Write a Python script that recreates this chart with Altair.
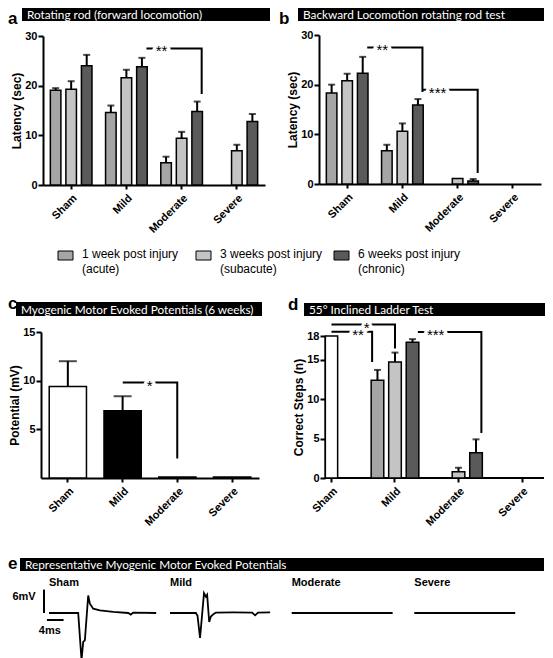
import altair as alt
import pandas as pd

FONT = "Liberation Sans"
TITLE_FONT = "Lato"

CATS = ["Sham", "Mild", "Moderate", "Severe"]
SERIES = ["1 week", "3 weeks", "6 weeks"]
SERIES_LABELS = ["1 week post injury\n(acute)", "3 weeks post injury\n(subacute)",
                 "6 weeks post injury\n(chronic)"]
SERIES_FILL = ["#a5a5a5", "#c4c4c4", "#5a5a5a"]

# ---- panel a: rotating rod, forward (sec) ----
A_1WK = [19.1, 14.6, 4.5, None]
A_3WK = [19.3, 21.6, 9.4, 6.9]
A_6WK = [24.0, 23.8, 14.8, 12.8]
A_1WK_ERR = [0.4, 1.4, 1.2, None]
A_3WK_ERR = [1.6, 1.6, 1.3, 1.2]
A_6WK_ERR = [2.2, 1.8, 2.0, 1.5]

# ---- panel b: rotating rod, backward (sec) ----
B_1WK = [18.3, 6.7, None, None]
B_3WK = [20.8, 10.6, 1.1, None]
B_6WK = [22.3, 15.9, 0.6, None]
B_1WK_ERR = [1.7, 1.2, None, None]
B_3WK_ERR = [1.4, 1.6, None, None]
B_6WK_ERR = [3.3, 1.2, 0.4, None]

# ---- panel c: MEP amplitude at 6 weeks (mV) ----
C_MEAN = [9.4, 6.9, 0.1, 0.1]
C_ERR = [2.6, 1.5, None, None]
C_FILL = ["white", "black", "white", "white"]

# ---- panel d: inclined ladder, correct steps ----
D_SHAM = [18.0]
D_1WK = [None, 12.4, None, None]
D_3WK = [None, 14.7, 0.8, None]
D_6WK = [None, 17.2, 3.2, None]
D_1WK_ERR = [None, 1.3, None, None]
D_3WK_ERR = [None, 1.2, 0.5, None]
D_6WK_ERR = [None, 0.4, 1.7, None]

# significance brackets: (category, series, value) path points
A_BRACKETS = [[("Mild", "6 weeks", 27.5), ("Moderate", "6 weeks", 27.5), ("Moderate", "6 weeks", 18.3)]]
B_BRACKETS = [[("Sham", "6 weeks", 27.5), ("Mild", "6 weeks", 27.5), ("Mild", "6 weeks", 18.5)],
              [("Mild", "6 weeks", 19.0), ("Moderate", "6 weeks", 19.0), ("Moderate", "6 weeks", 2.2)]]
C_BRACKETS = [[("Mild", None, 9.8), ("Moderate", None, 9.8), ("Moderate", None, 2.0)]]
D_BRACKETS = [[("Sham", "3 weeks", 18.55), ("Mild", "1 week", 18.55), ("Mild", "1 week", 14.7)],
              [("Sham", "3 weeks", 19.45), ("Mild", "3 weeks", 19.45), ("Mild", "3 weeks", 16.4)],
              [("Mild", "6 weeks", 18.5), ("Moderate", "6 weeks", 18.5), ("Moderate", "6 weeks", 5.7)]]

# ---- panel e: representative MEP traces (ms, mV) ----
SHAM_T = [0, 7.0, 7.8, 8.2, 8.6, 9.4, 9.8, 10.6, 12.2, 15.4, 19.0, 19.6, 20.2, 25.7]
SHAM_V = [0, 0, -12.1, -7.4, -7.0, 4.5, 2.4, 1.1, 0.7, 0.3, 0, -0.4, 0.1, 0]
MILD_T = [0, 6.2, 6.6, 7.2, 7.7, 8.15, 8.6, 8.9, 9.4, 9.8, 10.4, 11.0, 15.2, 19.7, 20.4, 21.1, 24.0]
MILD_V = [0, 0, -0.7, -6.4, -0.4, 5.1, 4.2, 4.7, -2.3, -0.9, -0.3, 0.1, 0.15, 0.1, -0.6, 0.1, 0.15]
MOD_T = [0, 12.0, 24.2]
MOD_V = [0, 0, 0]
SEV_T = [0, 12.0, 24.2]
SEV_V = [0, 0, 0]
TRACE_NAMES = ["Sham", "Mild", "Moderate", "Severe"]
SCALE_MV = 6
SCALE_MS = 4

W, H = 537, 650
ONE = pd.DataFrame({"k": [0]})


def long_df(means, errs):
    rows = []
    for s, ms, es in zip(SERIES, means, errs):
        for c, m, e in zip(CATS, ms, es):
            if m is None:
                continue
            rows.append({"cat": c, "series": s, "mean": m, "err": e or 0.0,
                         "hi": m + (e or 0.0)})
    return pd.DataFrame(rows)


def bracket_df(brs):
    rows = []
    for i, br in enumerate(brs):
        for j, (c, s, v) in enumerate(br):
            rows.append({"id": i, "seq": j, "cat": c, "series": s, "val": v})
    return pd.DataFrame(rows)


fill_scale = alt.Scale(domain=SERIES, range=SERIES_FILL)
layers = []


def deco_bar(x0, x1, y0, y1, text):
    r = alt.Chart(ONE).mark_rect(color="black").encode(
        x=alt.value(x0), x2=alt.value(x1), y=alt.value(y0), y2=alt.value(y1))
    t = alt.Chart(ONE).mark_text(text=text, color="white", font=TITLE_FONT, fontSize=11.8,
                                 align="left", baseline="middle").encode(
        x=alt.value(x0 + 5), y=alt.value((y0 + y1) / 2 + 0.5))
    return [r, t]


def letter(x, y, s):
    return alt.Chart(ONE).mark_text(text=s, font=FONT, fontSize=17, fontWeight="bold",
                                    color="black", align="left", baseline="alphabetic").encode(
        x=alt.value(x), y=alt.value(y))


def star(cat, val, txt, xs, ys, xo=None, series=None, shift=0, halo_w=6):
    df = pd.DataFrame({"cat": [cat], "val": [val], "series": [series]})
    out = []
    for halo in (True, False):
        kw = dict(text=txt, font=FONT, fontSize=15, align="center", baseline="alphabetic",
                  dy=8, dx=shift)
        if halo:
            kw.update(color="white", stroke="white", strokeWidth=halo_w)
        else:
            kw.update(color="black")
        enc = dict(x=alt.X("cat:N", scale=xs, axis=None), y=alt.Y("val:Q", scale=ys, axis=None))
        if xo is not None:
            enc["xOffset"] = alt.XOffset("series:N", scale=xo)
        out.append(alt.Chart(df).mark_text(**kw).encode(**enc))
    return out


def grouped_panel(df, brs, xs, xo, ys, xaxis, yaxis):
    err = df[df["err"] > 0]
    xnone = alt.X("cat:N", scale=xs, axis=None)
    out = [
        alt.Chart(err).mark_rule(color="black", strokeWidth=2).encode(
            x=xnone, xOffset=alt.XOffset("series:N", scale=xo),
            y=alt.Y("mean:Q", scale=ys, axis=None), y2="hi:Q"),
        alt.Chart(err).mark_tick(color="black", thickness=2, size=7, orient="horizontal").encode(
            x=xnone, xOffset=alt.XOffset("series:N", scale=xo),
            y=alt.Y("hi:Q", scale=ys, axis=None)),
        alt.Chart(df).mark_bar(stroke="black", strokeWidth=1.5).encode(
            x=alt.X("cat:N", scale=xs, axis=xaxis),
            xOffset=alt.XOffset("series:N", scale=xo),
            y=alt.Y("mean:Q", scale=ys, axis=yaxis),
            fill=alt.Fill("series:N", scale=fill_scale, legend=None)),
        alt.Chart(bracket_df(brs)).mark_line(color="black", strokeWidth=2).encode(
            x=xnone, xOffset=alt.XOffset("series:N", scale=xo),
            y=alt.Y("val:Q", scale=ys, axis=None), detail="id:N", order="seq:Q"),
    ]
    return out


def x_axis(off, domain=True):
    return alt.Axis(orient="bottom", offset=off, title=None, labelAngle=-45, labelAlign="right",
                    labelBaseline="top", tickSize=4, labelPadding=3, labelOverlap=False,
                    domain=domain)


def y_axis(off, vals, title):
    return alt.Axis(orient="left", offset=off, values=vals, title=title, tickSize=5,
                    labelPadding=1, titlePadding=1, labelOverlap=False)


# ---------------- panel a ----------------
layers += deco_bar(14, 262, 0, 13, "Rotating rod (forward locomotion)")
layers.append(letter(0, 16, "a"))
xs_a = alt.Scale(domain=CATS, range=[35, 257], paddingInner=0.15, paddingOuter=0.085)
xo_a = alt.Scale(domain=SERIES, paddingInner=0.32, paddingOuter=0.17)
ys_a = alt.Scale(domain=[0, 30], range=[177, 28], nice=False)
layers += grouped_panel(long_df([A_1WK, A_3WK, A_6WK], [A_1WK_ERR, A_3WK_ERR, A_6WK_ERR]),
                        A_BRACKETS, xs_a, xo_a, ys_a, x_axis(-(H - 177)),
                        y_axis(-35, [0, 10, 20, 30], "Latency (sec)"))
layers += star("Moderate", 27.5, "**", xs_a, ys_a, xo_a, "1 week")

# ---------------- panel b ----------------
layers += deco_bar(290, 536, 0, 13, "Backward Locomotion rotating rod test")
layers.append(letter(271, 16, "b"))
xs_b = alt.Scale(domain=CATS, range=[311, 533], paddingInner=0.15, paddingOuter=0.085)
xo_b = alt.Scale(domain=SERIES, paddingInner=0.32, paddingOuter=0.17)
ys_b = alt.Scale(domain=[0, 30], range=[176, 27], nice=False)
layers += grouped_panel(long_df([B_1WK, B_3WK, B_6WK], [B_1WK_ERR, B_3WK_ERR, B_6WK_ERR]),
                        B_BRACKETS, xs_b, xo_b, ys_b, x_axis(-(H - 176)),
                        y_axis(-311, [0, 10, 20, 30], "Latency (sec)"))
layers += star("Mild", 27.5, "**", xs_b, ys_b, xo_b, "1 week")
layers += star("Moderate", 19.0, "***", xs_b, ys_b, xo_b, "1 week")

# ---------------- legend ----------------
leg = pd.DataFrame({"series": SERIES, "label": SERIES_LABELS})
xs_leg = alt.Scale(domain=SERIES, range=[50, 464], paddingInner=0, paddingOuter=0)
layers.append(alt.Chart(leg).mark_bar(width=15, xOffset=-61.5, stroke="black", strokeWidth=1).encode(
    x=alt.X("series:N", scale=xs_leg, axis=None), y=alt.value(243), y2=alt.value(252),
    fill=alt.Fill("series:N", scale=fill_scale, legend=None)))
layers.append(alt.Chart(leg).mark_text(align="left", baseline="top", dx=-45, lineBreak="\n",
                                       font=FONT, fontSize=12, lineHeight=15, color="black").encode(
    x=alt.X("series:N", scale=xs_leg, axis=None), y=alt.value(241), text="label:N"))

# ---------------- panel c ----------------
layers += deco_bar(8, 254, 294, 308, "Myogenic Motor Evoked Potentials (6 weeks)")
layers.append(letter(0, 301, "c"))
xs_c = alt.Scale(domain=CATS, range=[33, 251], paddingInner=0.32, paddingOuter=0.15)
ys_c = alt.Scale(domain=[0, 15], range=[470, 324], nice=False)
c_df = pd.DataFrame({"cat": CATS, "mean": C_MEAN, "err": [e or 0.0 for e in C_ERR]})
c_df["hi"] = c_df["mean"] + c_df["err"]
c_err = c_df[c_df["err"] > 0]
layers.append(alt.Chart(c_err).mark_rule(color="black", strokeWidth=2).encode(
    x=alt.X("cat:N", scale=xs_c, axis=None), y=alt.Y("mean:Q", scale=ys_c, axis=None), y2="hi:Q"))
layers.append(alt.Chart(c_err).mark_tick(color="black", thickness=2, size=18, orient="horizontal").encode(
    x=alt.X("cat:N", scale=xs_c, axis=None), y=alt.Y("hi:Q", scale=ys_c, axis=None)))
layers.append(alt.Chart(c_df).mark_bar(stroke="black", strokeWidth=1.5).encode(
    x=alt.X("cat:N", scale=xs_c, axis=x_axis(-(H - 470))),
    y=alt.Y("mean:Q", scale=ys_c, axis=y_axis(-33, [5, 10, 15], "Potential (mV)")),
    fill=alt.Fill("cat:N", scale=alt.Scale(domain=CATS, range=C_FILL), legend=None)))
layers.append(alt.Chart(bracket_df(C_BRACKETS)).mark_line(color="black", strokeWidth=2).encode(
    x=alt.X("cat:N", scale=xs_c, axis=None), y=alt.Y("val:Q", scale=ys_c, axis=None),
    detail="id:N", order="seq:Q"))
layers += star("Mild", 9.8, "*", xs_c, ys_c, shift=27)

# ---------------- panel d ----------------
layers += deco_bar(296, 537, 295, 308, "55° Inclined Ladder Test")
layers.append(letter(280, 302, "d"))
xs_d = alt.Scale(domain=CATS, range=[296.5, 541], paddingInner=0.15, paddingOuter=0)
xo_d = alt.Scale(domain=SERIES, paddingInner=0.28, paddingOuter=0.18)
ys_d = alt.Scale(domain=[0, 18], range=[470, 328], nice=False)
layers.append(alt.Chart(ONE).mark_rule(color="black", strokeWidth=2).encode(
    x=alt.value(317), x2=alt.value(536), y=alt.value(470)))
layers.append(alt.Chart(pd.DataFrame({"cat": ["Sham"], "mean": D_SHAM})).mark_bar(
    width={"band": 0.228}, fill="white", stroke="black", strokeWidth=1.5).encode(
    x=alt.X("cat:N", scale=xs_d, axis=None), y=alt.Y("mean:Q", scale=ys_d, axis=None)))
layers += grouped_panel(long_df([D_1WK, D_3WK, D_6WK], [D_1WK_ERR, D_3WK_ERR, D_6WK_ERR]),
                        D_BRACKETS, xs_d, xo_d, ys_d, x_axis(-(H - 470), domain=False),
                        y_axis(-317, [0, 5, 10, 15, 18], "Correct Steps (n)"))
layers += star("Sham", 18.55, "**", xs_d, ys_d, shift=23, halo_w=6)
layers += star("Sham", 19.45, "*", xs_d, ys_d, shift=31.5, halo_w=5)
layers += star("Moderate", 18.5, "***", xs_d, ys_d, xo_d, "1 week")

# ---------------- panel e ----------------
layers += deco_bar(12, 536, 550, 563, "Representative Myogenic Motor Evoked Potentials")
layers.append(letter(0, 561, "e"))
ys_e = alt.Scale(domain=[-13, 8], range=[655.7, 573.8], nice=False, zero=False)
starts = [41, 162, 283.7, 406.3]
traces = [(SHAM_T, SHAM_V), (MILD_T, MILD_V), (MOD_T, MOD_V), (SEV_T, SEV_V)]
for name, x0, (tt, vv) in zip(TRACE_NAMES, starts, traces):
    xs_e = alt.Scale(domain=[0, 25.7], range=[x0, x0 + 107.2], nice=False, zero=False)
    df = pd.DataFrame({"t": tt, "v": vv, "i": range(len(tt))})
    layers.append(alt.Chart(df).mark_line(color="black", strokeWidth=1.8).encode(
        x=alt.X("t:Q", scale=xs_e, axis=None), y=alt.Y("v:Q", scale=ys_e, axis=None),
        order="i:Q"))
    layers.append(alt.Chart(pd.DataFrame({"t": [0.0], "v": [7.6], "name": [name]})).mark_text(
        font=FONT, fontSize=11, fontWeight="bold", align="left", baseline="middle",
        color="black").encode(
        x=alt.X("t:Q", scale=xs_e, axis=None), y=alt.Y("v:Q", scale=ys_e, axis=None),
        text="name:N"))
    if name == "Sham":
        layers.append(alt.Chart(pd.DataFrame({"t": [-1.2], "v0": [0], "v1": [SCALE_MV]})).mark_rule(
            color="black", strokeWidth=2).encode(
            x=alt.X("t:Q", scale=xs_e, axis=None), y=alt.Y("v0:Q", scale=ys_e, axis=None), y2="v1:Q"))
        layers.append(alt.Chart(pd.DataFrame({"t0": [-0.5], "t1": [-0.5 + SCALE_MS], "v": [-1.8]})).mark_rule(
            color="black", strokeWidth=2).encode(
            x=alt.X("t0:Q", scale=xs_e, axis=None), x2="t1:Q", y=alt.Y("v:Q", scale=ys_e, axis=None)))
        layers.append(alt.Chart(pd.DataFrame({"t": [-3.2], "v": [4.2], "lab": [f"{SCALE_MV}mV"]})).mark_text(
            font=FONT, fontSize=11, fontWeight="bold", align="right", baseline="middle",
            color="black").encode(
            x=alt.X("t:Q", scale=xs_e, axis=None), y=alt.Y("v:Q", scale=ys_e, axis=None), text="lab:N"))
        layers.append(alt.Chart(pd.DataFrame({"t": [0.2], "v": [-4.6], "lab": [f"{SCALE_MS}ms"]})).mark_text(
            font=FONT, fontSize=11, fontWeight="bold", align="center", baseline="middle",
            color="black").encode(
            x=alt.X("t:Q", scale=xs_e, axis=None), y=alt.Y("v:Q", scale=ys_e, axis=None), text="lab:N"))

chart = alt.layer(*layers).resolve_scale(
    x="independent", y="independent", xOffset="independent", fill="independent"
).resolve_axis(x="independent", y="independent").properties(
    width=W, height=H, autosize=alt.AutoSizeParams(type="none"), padding=0
).configure_view(strokeWidth=0).configure_axis(
    domainColor="black", domainWidth=2, tickColor="black", tickWidth=2,
    labelColor="black", labelFont=FONT, labelFontSize=11, labelFontWeight="bold",
    titleColor="black", titleFont=FONT, titleFontSize=12, titleFontWeight="bold", grid=False
)

chart.save("out.html", embed_options={"renderer": "svg", "actions": False})
